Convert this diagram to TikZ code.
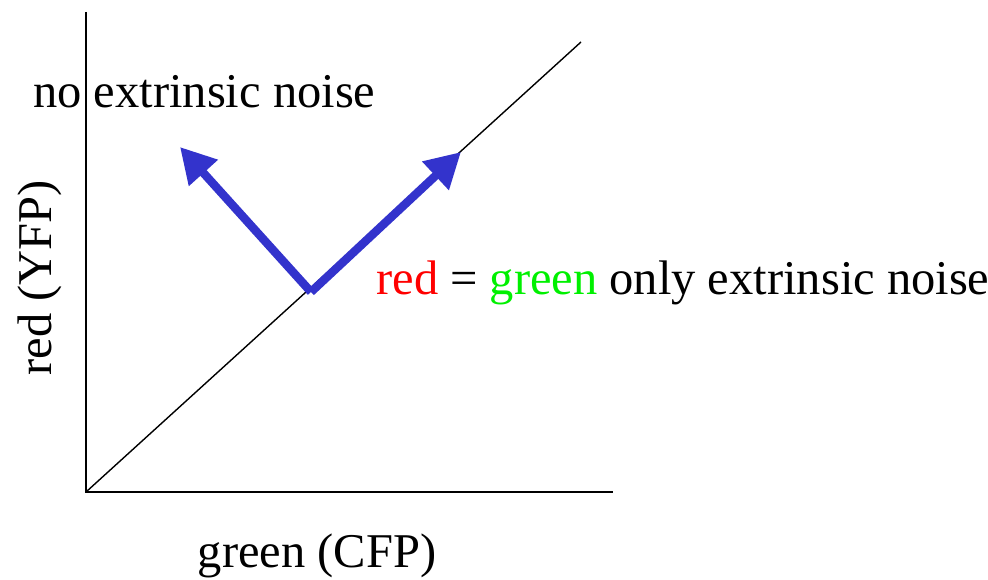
\documentclass[tikz,border=0pt]{standalone}
\usepackage{fontspec}
\setmainfont{Liberation Serif}
\usepackage{xcolor}
\usepackage{tikz}
\usetikzlibrary{arrows.meta}
\definecolor{noiseblue}{RGB}{51, 51, 204}
\definecolor{labelred}{RGB}{255, 0, 0}
\definecolor{labelgreen}{RGB}{0, 240, 0}
\tikzset{
	axisline/.style={black, line width=1.1pt},
	diagline/.style={black, line width=0.8pt},
	noisearrow/.style={noiseblue, line width=4.8pt, -{Triangle[length=0.7cm, width=0.74cm]}},
	plotlabel/.style={inner sep=0pt, font=\fontsize{27.6}{32}\selectfont}
}

\begin{document}
\begin{tikzpicture}[x=0.02cm, y=-0.02cm]
		\useasboundingbox (0,0) rectangle (988,580);
		
		% axes and diagonal
		\coordinate (origin) at (86,492);
		\coordinate (ytop) at (86,12);
		\coordinate (xend) at (613,492);
		\coordinate (diagend) at (581,42);
		\draw[axisline] (ytop) -- (origin) -- (xend);
		\draw[diagline] (origin) -- (diagend);
		
		% noise directions
		\coordinate (base) at (311,292);
		\coordinate (intrtip) at (180,147);
		\coordinate (extrtip) at (461,152);
		\draw[noisearrow] (base) -- (intrtip);
		\draw[noisearrow] (base) -- (extrtip);
		
		% labels
		\node[plotlabel, anchor=base west] (noext) at (33,108) {no extrinsic noise};
		\node[plotlabel, anchor=base west] (onlyext) at (376,295) {\textcolor{labelred}{red} = \textcolor{labelgreen}{green} only extrinsic noise};
		\node[plotlabel, anchor=base] (xlabel) at (317,568) {green (CFP)};
		\node[plotlabel, rotate=90] (ylabel) at (40,278) {red (YFP)};
	\end{tikzpicture}
\end{document}
